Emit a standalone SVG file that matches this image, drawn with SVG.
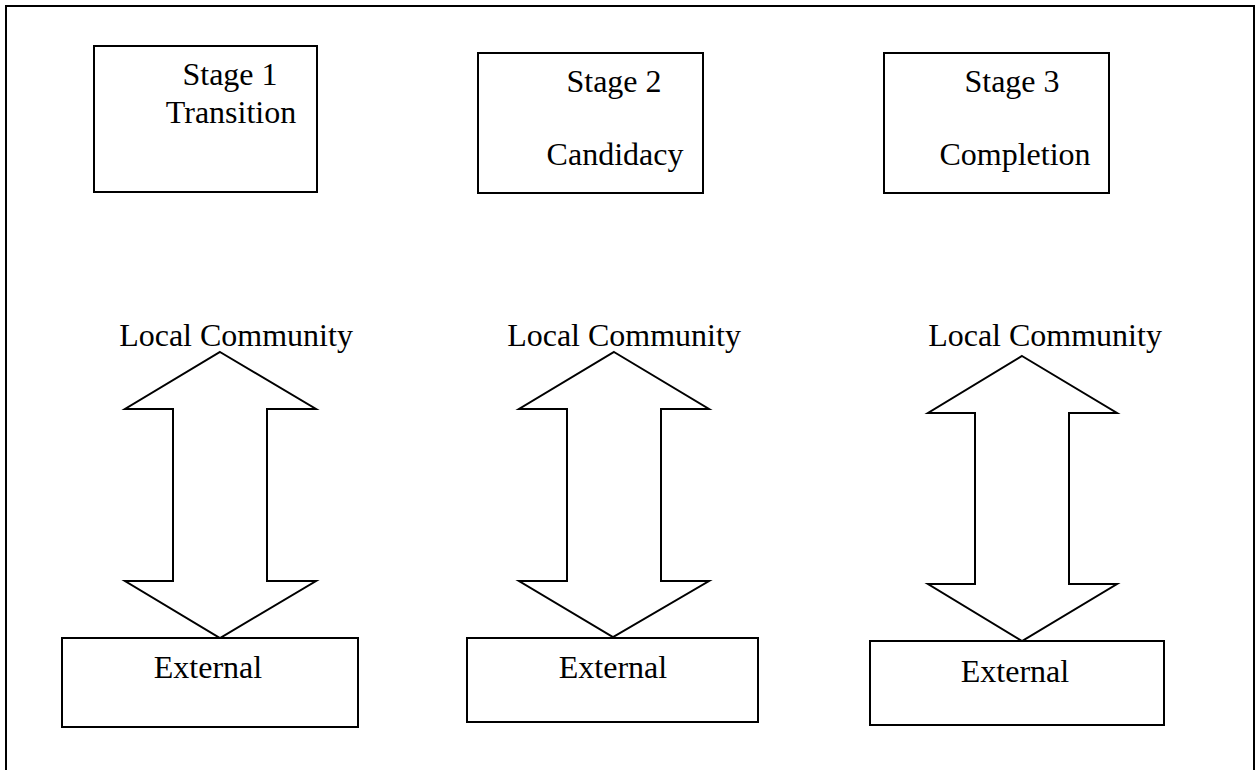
<svg xmlns="http://www.w3.org/2000/svg" width="1256" height="770" viewBox="0 0 1256 770">
<style>
.box{fill:#fff;stroke:#000;stroke-width:2}
.arr{fill:#fff;stroke:#000;stroke-width:2;stroke-linejoin:miter}
text{font-family:"Liberation Serif","Times New Roman",serif;font-size:32px;fill:#000;text-anchor:middle}
</style>
<rect x="0" y="0" width="1256" height="770" fill="#fff"/>
<rect x="6" y="6" width="1248" height="780" fill="none" stroke="#000" stroke-width="2"/>
<g id="stage1"><rect class="box" x="94" y="46" width="223" height="146"/><text x="230" y="85">Stage 1</text><text x="231" y="123">Transition</text></g>
<g id="stage2"><rect class="box" x="478" y="53" width="225" height="140"/><text x="614" y="92">Stage 2</text><text x="615" y="165">Candidacy</text></g>
<g id="stage3"><rect class="box" x="884" y="53" width="225" height="140"/><text x="1012" y="92">Stage 3</text><text x="1015" y="165">Completion</text></g>
<g id="local1"><text x="236" y="346">Local Community</text></g>
<g id="local2"><text x="624" y="346">Local Community</text></g>
<g id="local3"><text x="1045" y="346">Local Community</text></g>
<g id="connectors">
<polygon class="arr" points="220,352 316,409 267,409 267,581 316,581 220,638 125,581 173,581 173,409 125,409"/>
<polygon class="arr" points="614,352 709,409 661,409 661,581 709,581 613,637 519,581 567,581 567,409 519,409"/>
<polygon class="arr" points="1022,356 1117,413 1069,413 1069,584 1117,584 1022,641 928,584 975,584 975,413 928,413"/>
</g>
<g id="external1"><rect class="box" x="62" y="638" width="296" height="89"/><text x="208" y="678">External</text></g>
<g id="external2"><rect class="box" x="467" y="638" width="291" height="84"/><text x="613" y="678">External</text></g>
<g id="external3"><rect class="box" x="870" y="641" width="294" height="84"/><text x="1015" y="682">External</text></g>
</svg>
